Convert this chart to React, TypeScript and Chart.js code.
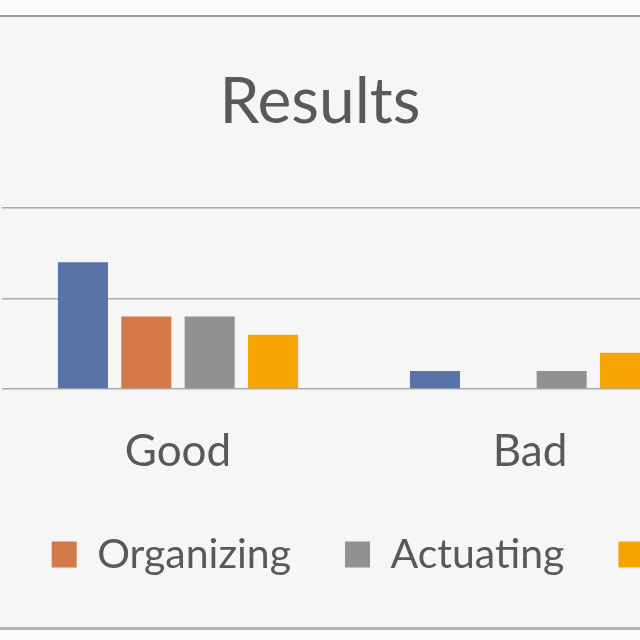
import React, { useEffect, useRef } from "react";
import { Chart, registerables } from "chart.js";

Chart.register(...registerables);

const categories = ["Good", "Bad"];
const seriesNames = ["Planning", "Organizing", "Actuating", "Controlling"];
const planning = [7, 1];
const organizing = [4, 0];
const actuating = [4, 1];
const controlling = [3, 2];
const seriesColors = ["#5773a8", "#d4794a", "#919191", "#f5a400"];
const yMin = 0;
const yMax = 10;
const yStep = 5;
const chartTitle = "Results";

const FONT = "Lato, 'Open Sans', sans-serif";
const TEXT = "#595959";

// nudges the legend row sideways (the reference legend sits slightly right of centre)
const legendShift = {
  id: "legendShift",
  afterLayout(chart: any) {
    if (chart.legend) {
      chart.legend.left += 10;
      chart.legend.right += 10;
    }
  },
};

export default function App() {
  const ref = useRef<HTMLCanvasElement | null>(null);

  useEffect(() => {
    if (!ref.current) return;
    const values = [planning, organizing, actuating, controlling];
    const chart = new Chart(ref.current, {
      type: "bar",
      data: {
        labels: categories,
        datasets: seriesNames.map((name, i) => ({
          label: name,
          data: values[i],
          backgroundColor: seriesColors[i],
          borderWidth: 0,
          categoryPercentage: 0.72,
          barPercentage: 0.79,
        })),
      },
      plugins: [legendShift],
      options: {
        animation: false,
        responsive: false,
        maintainAspectRatio: false,
        layout: { padding: { top: 0, bottom: 41, left: 0, right: 0 } },
        plugins: {
          title: {
            display: true,
            text: chartTitle,
            color: TEXT,
            font: { family: FONT, size: 64, weight: "normal" },
            padding: { top: 47, bottom: 67 },
          },
          legend: {
            display: true,
            position: "bottom",
            labels: {
              color: TEXT,
              font: { family: FONT, size: 41 },
              boxWidth: 25,
              boxHeight: 26,
              padding: 54,
            },
          },
          tooltip: { enabled: false },
        },
        scales: {
          x: {
            grid: { display: true, color: "rgba(0,0,0,0)", drawTicks: true, tickLength: 34 },
            border: { display: false },
            ticks: {
              color: TEXT,
              font: { family: FONT, size: 44 },
              padding: 2.1,
            },
          },
          y: {
            min: yMin,
            max: yMax,
            position: "left",
            ticks: { stepSize: yStep, display: false },
            grid: { color: "#ababab", lineWidth: 1.5, drawTicks: false },
            border: { display: false },
            afterFit: (s: any) => {
              s.width = 302;
            },
          },
          yRight: {
            position: "right",
            min: yMin,
            max: yMax,
            ticks: { display: false },
            grid: { display: false },
            border: { display: false },
            afterFit: (s: any) => {
              s.width = 234;
            },
          },
        },
      },
    });
    return () => chart.destroy();
  }, []);

  return (
    <div
      style={{
        position: "fixed",
        left: 0,
        top: 0,
        width: 640,
        height: 640,
        overflow: "hidden",
        background: "#fbfbfb",
      }}
    >
      <div
        style={{
          position: "absolute",
          left: -20,
          top: 15,
          width: 700,
          height: 610,
          background: "#f6f6f6",
          borderTop: "2px solid #9c9c9c",
          borderBottom: "3px solid #b4b4b4",
          overflow: "hidden",
        }}
      >
        <canvas
          ref={ref}
          width={1240}
          height={609}
          style={{ position: "absolute", left: -280, top: 0, width: 1240, height: 609 }}
        />
      </div>
    </div>
  );
}
